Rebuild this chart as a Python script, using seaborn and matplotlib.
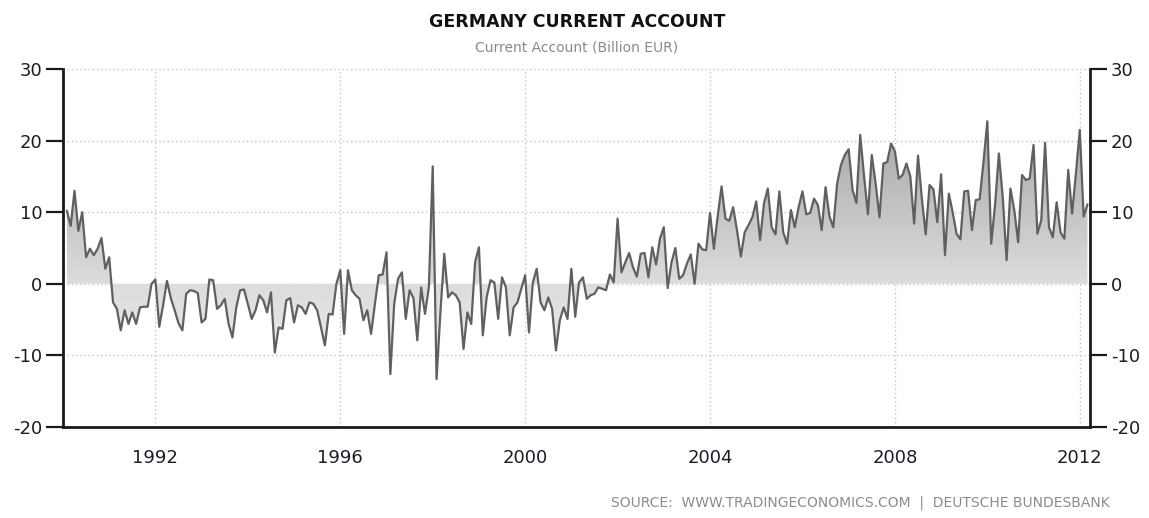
import numpy as np
import pandas as pd
import matplotlib
matplotlib.use("Agg")
import matplotlib.pyplot as plt
from matplotlib.colors import LinearSegmentedColormap
import seaborn as sns

# Monthly current account, Jan 1990 - Feb 2012 (billion EUR)
values_1990_1994 = [
    10.2, 8.1, 13.0, 7.4, 10.0, 3.7, 4.9, 4.0, 4.9, 6.4, 2.1, 3.7,
    -2.6, -3.5, -6.5, -3.7, -5.6, -4.0, -5.6, -3.3, -3.2, -3.2, 0.0, 0.6,
    -6.0, -3.0, 0.4, -2.0, -3.7, -5.5, -6.5, -1.4, -0.9, -1.0, -1.3, -5.4,
    -4.9, 0.6, 0.5, -3.5, -3.0, -2.1, -5.6, -7.5, -3.3, -0.9, -0.8, -2.8,
    -4.9, -3.7, -1.6, -2.3, -4.0, -1.2, -9.6, -6.1, -6.3, -2.3, -2.0, -5.4,
]
values_1995_1999 = [
    -3.0, -3.3, -4.2, -2.6, -2.8, -3.7, -6.1, -8.6, -4.2, -4.3, 0.0, 1.9,
    -7.0, 1.9, -0.9, -1.6, -2.1, -5.1, -3.7, -7.0, -2.8, 1.2, 1.3, 4.4,
    -12.6, -2.8, 0.7, 1.6, -4.9, -0.9, -2.0, -7.9, -0.5, -4.2, -0.5, 16.4,
    -13.3, -4.0, 4.2, -1.9, -1.2, -1.6, -2.6, -9.1, -4.0, -5.6, 3.0, 5.1,
    -7.2, -1.9, 0.5, 0.2, -4.9, 0.9, -0.5, -7.2, -3.3, -2.6, -0.7, 1.2,
]
values_2000_2004 = [
    -6.8, 0.2, 2.1, -2.6, -3.7, -1.9, -3.5, -9.3, -5.1, -3.3, -4.9, 2.1,
    -4.6, 0.2, 0.9, -2.1, -1.6, -1.4, -0.5, -0.7, -0.9, 1.3, 0.2, 9.1,
    1.6, 3.0, 4.3, 2.3, 1.0, 4.2, 4.3, 0.9, 5.1, 2.7, 6.3, 7.9,
    -0.6, 3.0, 5.0, 0.7, 1.2, 2.8, 4.1, 0.0, 5.6, 4.8, 4.7, 9.9,
    4.9, 9.5, 13.6, 9.1, 8.8, 10.7, 7.5, 3.8, 7.2, 8.2, 9.3, 11.5,
]
values_2005_2009 = [
    6.1, 11.2, 13.3, 7.9, 6.9, 12.9, 7.2, 5.6, 10.3, 7.9, 10.7, 12.9,
    9.7, 9.9, 11.9, 11.0, 7.5, 13.5, 9.4, 7.9, 14.0, 16.6, 18.0, 18.8,
    13.1, 11.3, 20.8, 15.0, 9.7, 18.0, 14.0, 9.3, 16.8, 17.0, 19.6, 18.5,
    14.7, 15.2, 16.8, 15.0, 8.4, 17.9, 11.9, 6.9, 13.8, 13.2, 8.6, 15.3,
    4.0, 12.6, 10.0, 7.0, 6.2, 12.9, 13.0, 7.5, 11.7, 11.8, 17.0, 22.7,
]
values_2010_2012 = [
    5.6, 11.0, 18.2, 12.1, 3.3, 13.3, 10.3, 5.8, 15.2, 14.5, 14.7, 19.4,
    7.0, 8.9, 19.7, 7.9, 6.5, 11.4, 7.2, 6.3, 15.9, 9.8, 15.4, 21.5,
    9.4, 11.1,
]

y_ticks = [-20, -10, 0, 10, 20, 30]
x_ticks = [1992, 1996, 2000, 2004, 2008, 2012]

title = "GERMANY CURRENT ACCOUNT"
subtitle = "Current Account (Billion EUR)"
source = "SOURCE:  WWW.TRADINGECONOMICS.COM  |  DEUTSCHE BUNDESBANK"

values = (values_1990_1994 + values_1995_1999 + values_2000_2004
          + values_2005_2009 + values_2010_2012)
# each month placed at its month end, as decimal years
years = 1990 + (np.arange(len(values)) + 1) / 12.0
df = pd.DataFrame({"year": years, "value": values})

sns.set_style("white")
plt.rcParams["font.family"] = ["DejaVu Sans"]
plt.rcParams["axes.unicode_minus"] = False

fig = plt.figure(figsize=(11.49, 5.18), dpi=100)
ax = fig.add_axes([0.0548, 0.1757, 0.8938, 0.6911])

x_min, x_max = 1990.0, 2012.22

# grey gradient fill between the series and zero
poly = ax.fill_between(df["year"], 0, df["value"], facecolor="none",
                       edgecolor="none")
g_top, g_bottom = 23, -14
zero_pos = g_top / (g_top - g_bottom)
cmap = LinearSegmentedColormap.from_list(
    "fade", [(0, "#a6a6a6"), (zero_pos, "#dcdcdc"), (1, "#f0f0f0")])
grad = np.linspace(0, 1, 256).reshape(-1, 1)
im = ax.imshow(grad, extent=[x_min, x_max, g_bottom, g_top], aspect="auto",
               cmap=cmap, origin="upper", zorder=1)
im.set_clip_path(poly.get_paths()[0], transform=ax.transData)

sns.lineplot(data=df, x="year", y="value", ax=ax, color="#606060",
             linewidth=1.6, zorder=3)

ax.set_xlim(x_min, x_max)
ax.set_ylim(-20, 30)
ax.set_yticks(y_ticks)
ax.set_xticks(x_ticks)
ax.set_xticklabels([str(t) for t in x_ticks])
ax.set_xlabel("")
ax.set_ylabel("")

ax.grid(True, color="#c4c4c4", linestyle=(0, (1, 2)), linewidth=1)
ax.set_axisbelow(True)

for side in ["left", "right", "bottom"]:
    ax.spines[side].set_visible(True)
    ax.spines[side].set_color("#1a1a1a")
    ax.spines[side].set_linewidth(2)
ax.spines["top"].set_visible(False)

ax.tick_params(axis="y", which="both", left=True, right=True,
               labelleft=True, labelright=True, direction="out",
               length=12, width=1.6, color="#1a1a1a", labelsize=13,
               labelcolor="#1c1c2a", pad=3)
ax.tick_params(axis="x", length=0, labelsize=13, labelcolor="#1c1c2a",
               pad=16)

fig.text(0.502, 0.957, title, ha="center", va="center", fontsize=12.5,
         fontweight="bold", color="#111111")
fig.text(0.502, 0.909, subtitle, ha="center", va="center", fontsize=10,
         color="#8a8a8a")
fig.text(0.966, 0.016, source, ha="right", va="bottom", fontsize=10,
         color="#8c8c8c")

fig.savefig("out.png", dpi=100)
